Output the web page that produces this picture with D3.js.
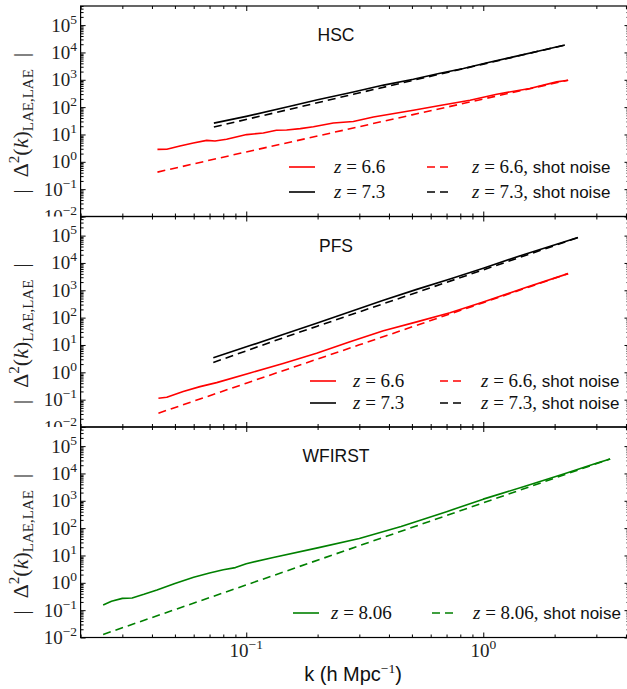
<!DOCTYPE html>
<html><head><meta charset="utf-8">
<script src="https://cdn.jsdelivr.net/npm/d3@7"></script>
<style>body{margin:0;background:#fff}</style>
</head><body><svg id="c" width="627" height="689"></svg>
<script>
// ---------------- DATA ----------------
const panelTitles = ["HSC", "PFS", "WFIRST"];
const yTickExps = [5, 4, 3, 2, 1, 0, -1, -2];
const xTickExps = [-1, 0];

// HSC
const hscK66 = [0.0422,0.0462,0.0525,0.0598,0.0681,0.0738,0.0826,0.1004,0.118,0.134,0.148,0.169,0.192,0.233,0.283,0.344,0.507,0.656,0.879,1.14,1.57,2.04,2.28];
const hscSig66 = [2.86,2.9,3.78,4.86,6.1,5.76,6.65,9.9,11.3,14.2,14.5,16.4,19.1,26.3,30,43.6,76.9,114,179,297,480,838,966];
const hscShotK66 = [0.0422,0.1,0.5,1.0,2.28];
const hscShot66 = [0.42,2.3,52,198,966];
const hscK73 = [0.073,0.1,0.153,0.2,0.283,0.38,0.507,0.65,0.824,1.05,1.34,1.7,2.21];
const hscSig73 = [26,46,107,185,360,640,1050,1700,2600,4300,6900,11000,18600];
const hscShotK73 = [0.073,0.153,0.283,0.507,1.0,2.21];
const hscShot73 = [18.7,84,295,960,3750,18600];

// PFS
const pfsK66 = [0.0426,0.0462,0.0542,0.0638,0.075,0.1038,0.143,0.198,0.274,0.379,0.524,0.724,1.0,1.5,2.28];
const pfsSig66 = [0.113,0.123,0.197,0.30,0.42,0.95,2.1,5.0,13,33,70,150,375,1230,4070];
const pfsShotK66 = [0.0426,0.1,0.3,1.0,2.28];
const pfsShot66 = [0.032,0.40,10.1,354,4070];
const pfsK73 = [0.0726,0.1038,0.143,0.198,0.274,0.379,0.524,0.724,1.0,1.5,2.51];
const pfsSig73 = [3.4,9.5,24,62,165,430,1080,2600,6400,21000,84700];
const pfsShotK73 = [0.0726,0.1038,0.143,0.198,0.3,1.0,2.51];
const pfsShot73 = [2.3,6.8,18.3,47.8,162,5590,84700];

// WFIRST
const wfK806 = [0.0249,0.027,0.03,0.033,0.037,0.042,0.05,0.06,0.07,0.08,0.09,0.1,0.13,0.2,0.3,0.45,0.7,1.0,1.5,2.2,3.0,3.43];
const wfSig806 = [0.155,0.21,0.27,0.28,0.38,0.55,0.95,1.6,2.3,3.0,3.6,5.0,8.5,19,42,115,400,1150,3400,9800,23500,34000];
const wfShotK806 = [0.0249,0.1,0.3,1.0,2.2,3.43];
const wfShot806 = [0.013,0.84,22.7,842,8965,34000];

const redC = "#ff0000", blackC = "#000000", greenC = "#008000";

const panelsSeries = [
  [ {k:hscK66, v:hscSig66, c:redC, dash:null},
    {k:hscShotK66, v:hscShot66, c:redC, dash:"8,5"},
    {k:hscK73, v:hscSig73, c:blackC, dash:null},
    {k:hscShotK73, v:hscShot73, c:blackC, dash:"8,5"} ],
  [ {k:pfsK66, v:pfsSig66, c:redC, dash:null},
    {k:pfsShotK66, v:pfsShot66, c:redC, dash:"8,5"},
    {k:pfsK73, v:pfsSig73, c:blackC, dash:null},
    {k:pfsShotK73, v:pfsShot73, c:blackC, dash:"8,5"} ],
  [ {k:wfK806, v:wfSig806, c:greenC, dash:null},
    {k:wfShotK806, v:wfShot806, c:greenC, dash:"8,5"} ]
];

const legends = [
  { rows:[167,192], col1:[289,334], col2:[427,472],
    items:[["6.6",redC],["7.3",blackC]] },
  { rows:[381,403], col1:[310,353], col2:[440,481],
    items:[["6.6",redC],["7.3",blackC]] },
  { rows:[613], col1:[293,331], col2:[432,473],
    items:[["8.06",greenC]] }
];

// ---------------- LAYOUT ----------------
const svg = d3.select("#c");
svg.append("rect").attr("width",627).attr("height",689).attr("fill","#fff");
const left = 80.6, right = 629.5;
const panelTops = [6, 216.5, 427], panelH = 210.5;
const serif = "'Liberation Serif', 'DejaVu Serif', serif";
const sans = "'Liberation Sans', Arial, sans-serif";

const x = d3.scaleLog().domain([0.02, 4.14]).range([left, right]);
const xMajor = xTickExps.map(e => Math.pow(10, e));
const xMinor = [];
[-2,-1,0].forEach(d => { for (let m=2;m<=9;m++){ const v=m*Math.pow(10,d); if (v>=0.02 && v<=4.14) xMinor.push(v);} });
const yMajor = yTickExps.map(e => Math.pow(10, e));
const yMinor = [];
for (let d=-2; d<=5; d++) for (let m=2;m<=9;m++){ const v=m*Math.pow(10,d); if (v<=5e5) yMinor.push(v); }

const defs = svg.append("defs");

panelTops.forEach((top, i) => {
  const bottom = top + panelH;
  const y = d3.scaleLog().domain([1e-2, 5e5]).range([bottom, top]);
  const g = svg.append("g");

  // curves
  const line = d3.line().x(d => x(d[0])).y(d => y(d[1]));
  panelsSeries[i].forEach(s => {
    g.append("path").datum(d3.zip(s.k, s.v))
      .attr("d", line).attr("fill","none").attr("stroke", s.c)
      .attr("stroke-width", 1.6).attr("stroke-linejoin","round")
      .attr("stroke-dasharray", s.dash);
  });

  // axes ticks (inward)
  const mk = (axis, sc, vals, size, tx, ty) => {
    const a = g.append("g").attr("transform", `translate(${tx},${ty})`)
      .call(axis(sc).tickValues(vals).tickSizeInner(size).tickSizeOuter(0).tickFormat(""));
    a.select(".domain").remove();
    a.selectAll("line").attr("stroke","#000").attr("stroke-width",1);
  };
  mk(d3.axisBottom, x, xMajor, -5, 0, bottom);
  mk(d3.axisBottom, x, xMinor, -3, 0, bottom);
  mk(d3.axisTop, x, xMajor, -5, 0, top);
  mk(d3.axisTop, x, xMinor, -3, 0, top);
  mk(d3.axisLeft, y, yMajor, -5, left, 0);
  mk(d3.axisLeft, y, yMinor, -3, left, 0);
  mk(d3.axisRight, y, yMajor, -5, right, 0);
  mk(d3.axisRight, y, yMinor, -3, right, 0);

  // frame
  g.append("rect").attr("x", left).attr("y", top).attr("width", right-left).attr("height", panelH)
    .attr("fill","none").attr("stroke","#000").attr("stroke-width",1.2);

  // y tick labels (clipped at panel bottom for upper panels)
  const cid = "clip"+i;
  defs.append("clipPath").attr("id", cid).append("rect")
    .attr("x", 0).attr("y", top-20).attr("width", left).attr("height", (i<2 ? panelH+20 : panelH+40));
  const lab = svg.append("g").attr("clip-path", `url(#${cid})`);
  yTickExps.forEach(e => {
    const t = lab.append("text").attr("x", 77).attr("y", y(Math.pow(10,e)) + 6.5)
      .attr("text-anchor","end").attr("font-family", serif).attr("font-size", 19).attr("fill","#222");
    t.append("tspan").text("10");
    t.append("tspan").attr("dy", -8).attr("font-size", 13.5).text(String(e).replace("-", "\u2212"));
  });

  // y label
  const cy = top + panelH/2 + 12;
  const yl = svg.append("text").attr("transform", `translate(28,${cy}) rotate(-90)`)
    .attr("text-anchor","middle").attr("font-family", serif).attr("font-size", 22).attr("fill","#222");
  yl.append("tspan").text("|");
  yl.append("tspan").attr("dx", 12).text("\u0394");
  yl.append("tspan").attr("dy",-9).attr("font-size",15).text("2");
  yl.append("tspan").attr("dy",9).text("(");
  yl.append("tspan").attr("font-style","italic").text("k");
  yl.append("tspan").text(")");
  yl.append("tspan").attr("dy",5).attr("font-size",15).text("LAE,LAE");
  yl.append("tspan").attr("dy",-5).attr("dx", 12).text("|");

  // title
  svg.append("text").attr("x", 336).attr("y", top + 35).attr("text-anchor","middle")
    .attr("font-family", sans).attr("font-size", 17.5).attr("fill","#111").text(panelTitles[i]);

  // legend
  const L = legends[i];
  L.items.forEach((it, r) => {
    const ry = L.rows[r];
    svg.append("line").attr("x1", L.col1[0]).attr("x2", L.col1[0]+26).attr("y1", ry).attr("y2", ry)
      .attr("stroke", it[1]).attr("stroke-width", 1.6);
    svg.append("line").attr("x1", L.col2[0]).attr("x2", L.col2[0]+26).attr("y1", ry).attr("y2", ry)
      .attr("stroke", it[1]).attr("stroke-width", 1.6).attr("stroke-dasharray","8,5");
    const t1 = svg.append("text").attr("x", L.col1[1]).attr("y", ry+6)
      .attr("font-family", serif).attr("font-size", 19).attr("fill","#111");
    t1.append("tspan").attr("font-style","italic").text("z");
    t1.append("tspan").text(" = " + it[0]);
    const t2 = svg.append("text").attr("x", L.col2[1]).attr("y", ry+6)
      .attr("font-family", serif).attr("font-size", 19).attr("fill","#111");
    t2.append("tspan").attr("font-style","italic").text("z");
    t2.append("tspan").text(" = " + it[0] + ",");
    t2.append("tspan").attr("font-family", sans).attr("font-size", 17).text(" shot noise");
  });

  // x tick labels only for bottom panel
  if (i === 2) {
    xTickExps.forEach(e => {
      const t = svg.append("text").attr("x", x(Math.pow(10,e))).attr("y", bottom + 19)
        .attr("text-anchor","middle").attr("font-family", serif).attr("font-size", 19).attr("fill","#222");
      t.append("tspan").text("10");
      t.append("tspan").attr("dy",-8).attr("font-size",13.5).text(String(e).replace("-", "\u2212"));
    });
    const xl = svg.append("text").attr("x", (left+right)/2 - 2).attr("y", 681)
      .attr("text-anchor","middle").attr("font-family", sans).attr("font-size", 20).attr("fill","#111");
    xl.append("tspan").text("k (h Mpc");
    xl.append("tspan").attr("dy",-8).attr("font-size",13.5).attr("font-family", serif).text("\u22121");
    xl.append("tspan").attr("dy",8).text(")");
  }
});
</script>
</body></html>
